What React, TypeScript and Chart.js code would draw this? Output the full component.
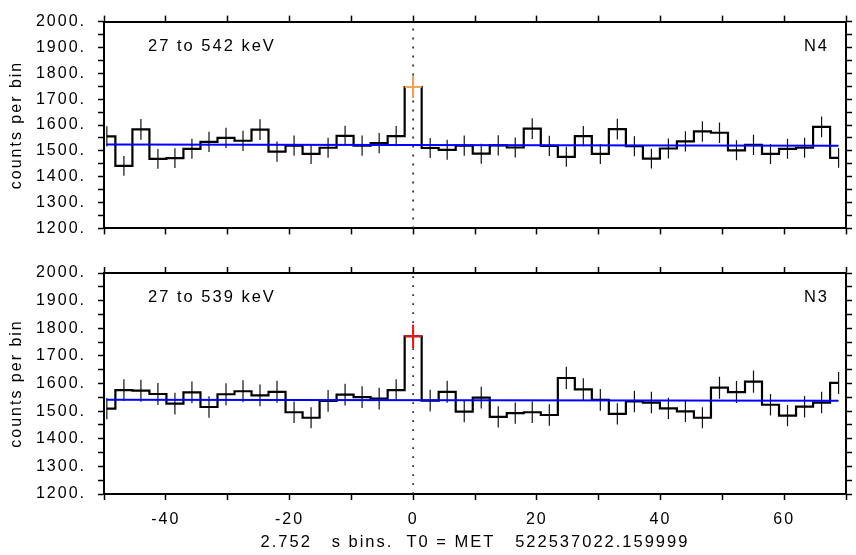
import React, { useEffect, useRef } from "react";
import { Chart, registerables } from "chart.js";

Chart.register(...registerables);

// ---- data ----
const binWidth = 2.752; // seconds
const binCenters = [
  -49.54, -46.78, -44.03, -41.28, -38.53, -35.78, -33.02, -30.27, -27.52, -24.77,
  -22.02, -19.26, -16.51, -13.76, -11.01, -8.26, -5.5, -2.75, 0, 2.75,
  5.5, 8.26, 11.01, 13.76, 16.51, 19.26, 22.02, 24.77, 27.52, 30.27,
  33.02, 35.78, 38.53, 41.28, 44.03, 46.78, 49.54, 52.29, 55.04, 57.79,
  60.54, 63.3, 66.05, 68.8,
];
const countsN4 = [
  1556, 1442, 1583, 1469, 1472, 1508, 1535, 1550, 1539, 1582,
  1497, 1520, 1488, 1512, 1558, 1520, 1530, 1557, 1747, 1511,
  1504, 1520, 1489, 1521, 1513, 1586, 1519, 1477, 1557, 1488,
  1584, 1518, 1470, 1509, 1537, 1575, 1570, 1502, 1523, 1488,
  1508, 1512, 1593, 1473,
];
const countsN3 = [
  1509, 1576, 1574, 1562, 1527, 1568, 1515, 1561, 1572, 1557,
  1570, 1496, 1476, 1537, 1560, 1551, 1545, 1576, 1771, 1538,
  1570, 1498, 1549, 1479, 1493, 1496, 1486, 1620, 1579, 1541,
  1490, 1535, 1531, 1510, 1499, 1476, 1585, 1569, 1607, 1523,
  1484, 1516, 1531, 1602,
];
const fitN4 = [1525, 1520]; // background fit at first / last bin centre
const fitN3 = [1541, 1538];
const peakIndex = 18; // bin at T0
const xRange = [-50, 70];
const xTickStep = 10;
const xLabelStep = 20;
const yRange = [1200, 2000];
const yTickStep = 50;
const yLabelStep = 100;
const t0Line = 0;
const yTitle = "counts per bin";
const xTitle = "2.752   s bins.  T0 = MET   522537022.159999";
const energyN4 = "27 to 542 keV";
const energyN3 = "27 to 539 keV";
const detN4 = "N4";
const detN3 = "N3";

const FONT = "'Liberation Sans', Arial, Helvetica, sans-serif";
const SPACING = "2px";

type PanelProps = {
  counts: number[];
  fit: number[];
  energy: string;
  det: string;
  peakColor: string;
  height: number;
  top: number;
  topH: number;
  bottomH: number;
  showX: boolean;
};

function Panel(p: PanelProps) {
  const ref = useRef<HTMLCanvasElement | null>(null);
  useEffect(() => {
    if (!ref.current) return;
    const errData: { x: number; y: number | null }[] = [];
    binCenters.forEach((x, i) => {
      const v = p.counts[i];
      const e = Math.sqrt(v);
      errData.push({ x, y: v - e }, { x, y: v + e }, { x, y: null });
    });
    const steps = binCenters.map((x, i) => ({ x, y: p.counts[i] }));
    const pk = p.counts[peakIndex];
    const pe = Math.sqrt(pk);
    const px = binCenters[peakIndex];
    const cross = [
      { x: px - binWidth / 2, y: pk },
      { x: px + binWidth / 2, y: pk },
      { x: px, y: null },
      { x: px, y: pk - pe },
      { x: px, y: pk + pe },
    ];
    const fitLine = [
      { x: binCenters[0], y: p.fit[0] },
      { x: binCenters[binCenters.length - 1], y: p.fit[1] },
    ];
    const dotted = [
      { x: t0Line, y: yRange[0] },
      { x: t0Line, y: yRange[1] },
    ];

    const gridOpts = {
      drawOnChartArea: false,
      drawTicks: true,
      tickLength: 6,
      tickWidth: 1.5,
      tickColor: "#000",
    };
    const borderOpts = { display: true, color: "#000", width: 2 };
    const tickFont = { family: FONT, size: 16 };

    const annot = {
      id: "annot",
      beforeDraw(chart: any) {
        (chart.ctx as any).letterSpacing = SPACING;
      },
      afterDraw(chart: any) {
        const { ctx, chartArea } = chart;
        ctx.save();
        (ctx as any).letterSpacing = SPACING;
        ctx.font = `16.5px ${FONT}`;
        ctx.fillStyle = "#000";
        ctx.textBaseline = "alphabetic";
        ctx.textAlign = "left";
        ctx.fillText(p.energy, chartArea.left + 44, chartArea.top + 29);
        ctx.textAlign = "right";
        ctx.fillText(p.det, chartArea.right - 17, chartArea.top + 29);
        ctx.restore();
      },
    };

    const chart = new Chart(ref.current, {
      type: "line",
      data: {
        datasets: [
          {
            data: cross as any,
            borderColor: p.peakColor,
            borderWidth: 2,
            pointRadius: 0,
            spanGaps: false,
            order: 0,
          },
          {
            data: fitLine,
            borderColor: "#0000ff",
            borderWidth: 2,
            pointRadius: 0,
            order: 1,
          },
          {
            data: steps,
            borderColor: "#000",
            borderWidth: 2.2,
            pointRadius: 0,
            stepped: "middle",
            order: 2,
          },
          {
            data: errData as any,
            borderColor: "#111",
            borderWidth: 1.2,
            pointRadius: 0,
            spanGaps: false,
            order: 3,
          },
          {
            data: dotted,
            borderColor: "#333",
            borderWidth: 1.8,
            borderDash: [1.8, 7.2],
            pointRadius: 0,
            order: 4,
          },
        ],
      },
      options: {
        animation: false,
        responsive: false,
        devicePixelRatio: 1,
        layout: { padding: 0 },
        plugins: {
          legend: { display: false },
          tooltip: { enabled: false },
          title: { display: false },
        },
        scales: {
          x: {
            type: "linear",
            position: "bottom",
            min: xRange[0],
            max: xRange[1],
            grid: gridOpts,
            border: borderOpts,
            ticks: {
              stepSize: xTickStep,
              autoSkip: false,
              maxRotation: 0,
              minRotation: 0,
              padding: 10,
              color: "#000",
              font: tickFont,
              callback: (v: any) =>
                p.showX && Number(v) % xLabelStep === 0 ? String(v) : "",
            },
            title: {
              display: p.showX,
              text: xTitle,
              color: "#000",
              font: { family: FONT, size: 16.5 },
              padding: { top: 0, bottom: 3 },
            },
            afterFit: (s: any) => {
              s.height = p.bottomH;
            },
          },
          xTop: {
            type: "linear",
            position: "top",
            min: xRange[0],
            max: xRange[1],
            grid: gridOpts,
            border: borderOpts,
            ticks: {
              stepSize: xTickStep,
              autoSkip: false,
              maxRotation: 0,
              callback: () => "",
            },
            afterFit: (s: any) => {
              s.height = p.topH;
            },
          },
          y: {
            type: "linear",
            position: "left",
            min: yRange[0],
            max: yRange[1],
            grid: gridOpts,
            border: borderOpts,
            ticks: {
              stepSize: yTickStep,
              autoSkip: false,
              padding: 12,
              color: "#000",
              font: tickFont,
              callback: (v: any) =>
                Number(v) % yLabelStep === 0 ? `${v}.` : "",
            },
            title: {
              display: true,
              text: yTitle,
              color: "#000",
              font: { family: FONT, size: 16 },
              padding: { top: 7, bottom: 0 },
            },
            afterFit: (s: any) => {
              s.width = 104;
            },
          },
          yRight: {
            type: "linear",
            position: "right",
            min: yRange[0],
            max: yRange[1],
            grid: gridOpts,
            border: borderOpts,
            ticks: {
              stepSize: yTickStep,
              autoSkip: false,
              callback: () => "",
            },
            afterFit: (s: any) => {
              s.width = 4;
            },
          },
        },
      } as any,
      plugins: [annot],
    });
    return () => chart.destroy();
  }, []);
  return (
    <canvas
      ref={ref}
      width={856}
      height={p.height}
      style={{ position: "absolute", left: 0, top: p.top, display: "block" }}
    />
  );
}

export default function App() {
  return (
    <div
      style={{
        position: "absolute",
        left: 0,
        top: 0,
        width: 856,
        height: 555,
        background: "#fff",
        overflow: "hidden",
      }}
    >
      <Panel
        counts={countsN4}
        fit={fitN4}
        energy={energyN4}
        det={detN4}
        peakColor="#f5a55a"
        height={250}
        top={0}
        topH={16}
        bottomH={11}
        showX={false}
      />
      <Panel
        counts={countsN3}
        fit={fitN3}
        energy={energyN3}
        det={detN3}
        peakColor="#e31a1c"
        height={305}
        top={250}
        topH={23}
        bottomH={61}
        showX={true}
      />
    </div>
  );
}
